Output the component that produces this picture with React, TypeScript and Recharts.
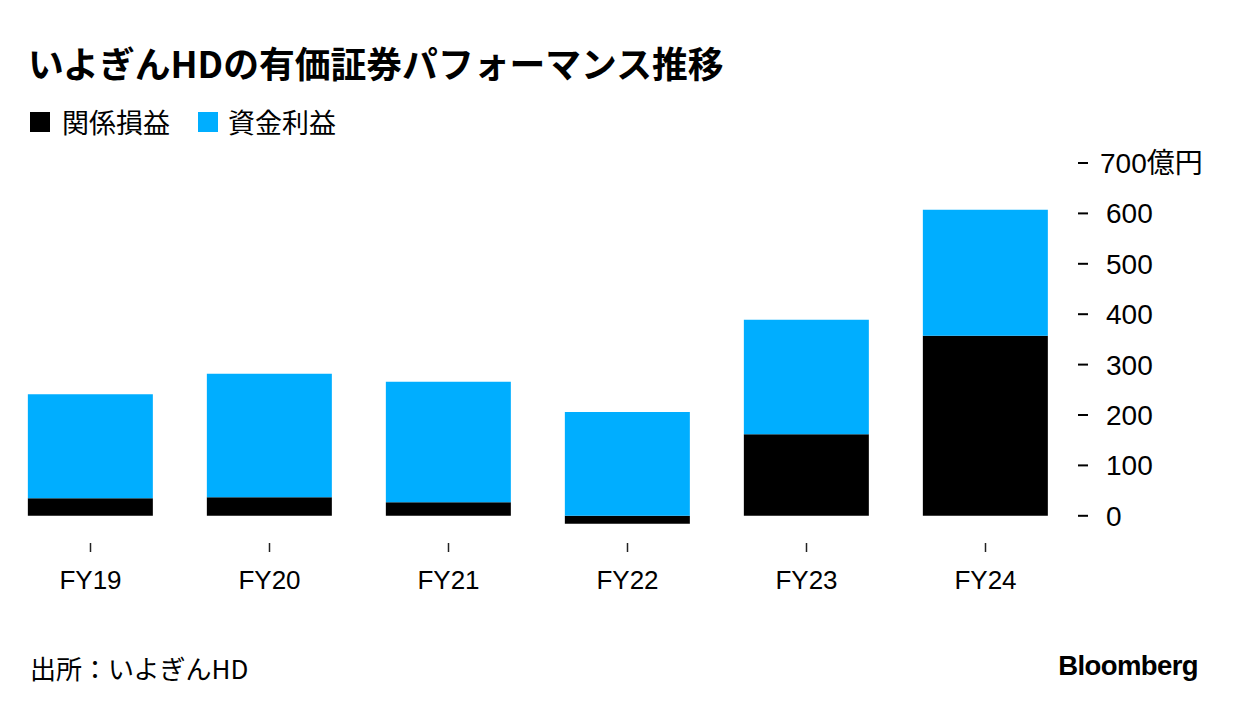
import React from "react";
import { Bar, BarChart, XAxis, YAxis } from "recharts";

const categories = ["FY19", "FY20", "FY21", "FY22", "FY23", "FY24"];
const affiliateValues = [35, 37, 27, -16, 162, 357];
const interestValues = [206, 245, 239, 206, 227, 250];
const yTicks = [0, 100, 200, 300, 400, 500, 600, 700];

const BLACK = "#000000";
const BLUE = "#00aeff";
const LATIN = "'Liberation Sans', Arial, 'Noto Sans CJK JP', sans-serif";
const CJK = "'Noto Sans CJK JP', 'Liberation Sans', sans-serif";

const data = categories.map((name, i) => ({
  name,
  affiliate: affiliateValues[i],
  interest: interestValues[i],
}));

function YTick(props: any) {
  const { x, y, payload } = props;
  const top = payload.value === 700;
  return (
    <g>
      <line x1={x + 3} x2={x + 13} y1={y} y2={y} stroke="#000" strokeWidth={2} />
      <text
        x={x + (top ? 25 : 31)}
        y={y}
        dy="0.36em"
        fontSize={28}
        fontFamily={LATIN}
        fill="#000"
      >
        {payload.value}
        {top ? <tspan fontFamily={CJK}>億円</tspan> : null}
      </text>
    </g>
  );
}

function XTick(props: any) {
  const { x, y, payload } = props;
  return (
    <g>
      <line x1={x} x2={x} y1={y + 2} y2={y + 11} stroke="#222" strokeWidth={1.5} />
      <text x={x} y={y + 48} textAnchor="middle" fontSize={26} fontFamily={LATIN} fill="#000">
        {payload.value}
      </text>
    </g>
  );
}

export default function App() {
  return (
    <div style={{ position: "relative", width: 1236, height: 710, background: "#fff", overflow: "hidden" }}>
      <style>{`body{margin:0}`}</style>
      <BarChart
        width={1236}
        height={710}
        data={data}
        stackOffset="sign"
        margin={{ top: 163, right: 0, left: 1, bottom: 109 }}
        barCategoryGap="15%"
        style={{ position: "absolute", left: 0, top: 0 }}
      >
        <XAxis
          dataKey="name"
          axisLine={false}
          tickLine={false}
          tickSize={0}
          tickMargin={0}
          height={60}
          tick={<XTick />}
          interval={0}
        />
        <YAxis
          orientation="right"
          domain={[-50, 700]}
          ticks={yTicks}
          axisLine={false}
          tickLine={false}
          tickSize={0}
          tickMargin={0}
          width={161}
          tick={<YTick />}
          interval={0}
        />
        <Bar dataKey="affiliate" stackId="a" fill={BLACK} isAnimationActive={false} />
        <Bar dataKey="interest" stackId="a" fill={BLUE} isAnimationActive={false} />
      </BarChart>

      <div
        style={{
          position: "absolute",
          left: 28,
          top: 37,
          fontFamily: CJK,
          fontWeight: 700,
          fontSize: 35.8,
          lineHeight: "50px",
          color: "#000",
          whiteSpace: "nowrap",
        }}
      >
        いよぎんHDの有価証券パフォーマンス推移
      </div>

      <div
        style={{
          position: "absolute",
          left: 30,
          top: 104,
          display: "flex",
          alignItems: "center",
          fontFamily: CJK,
          fontSize: 27,
          lineHeight: "36px",
          color: "#000",
          whiteSpace: "nowrap",
        }}
      >
        <span style={{ width: 20, height: 20, background: BLACK, display: "inline-block", marginRight: 12 }} />
        <span style={{ marginRight: 28 }}>関係損益</span>
        <span style={{ width: 20, height: 20, background: BLUE, display: "inline-block", marginRight: 10 }} />
        <span>資金利益</span>
      </div>

      <div
        style={{
          position: "absolute",
          left: 30,
          top: 650,
          fontFamily: CJK,
          fontSize: 26,
          lineHeight: "36px",
          color: "#000",
          whiteSpace: "nowrap",
        }}
      >
        出所：いよぎんHD
      </div>

      <div
        style={{
          position: "absolute",
          right: 38,
          top: 648,
          fontFamily: LATIN,
          fontWeight: 700,
          fontSize: 27.5,
          lineHeight: "36px",
          letterSpacing: -0.6,
          color: "#000",
        }}
      >
        Bloomberg
      </div>
    </div>
  );
}
